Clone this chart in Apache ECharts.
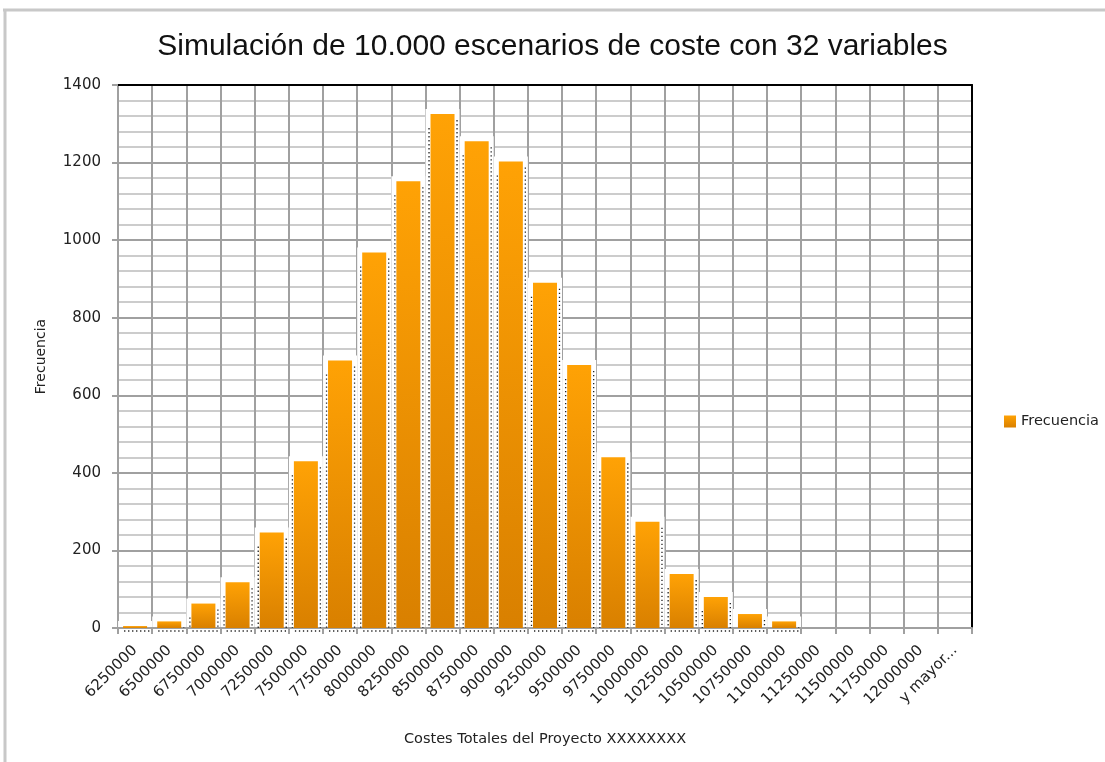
<!DOCTYPE html>
<html>
<head>
<meta charset="utf-8">
<script src="https://cdn.jsdelivr.net/npm/echarts@6/dist/echarts.min.js"></script>
<style>
html,body{margin:0;padding:0;background:#fff;}
#chart{width:1105px;height:762px;}
</style>
</head>
<body>
<div id="chart"></div>
<script>
const categories = ['6250000','6500000','6750000','7000000','7250000','7500000','7750000','8000000','8250000','8500000','8750000','9000000','9250000','9500000','9750000','10000000','10250000','10500000','10750000','11000000','11250000','11500000','11750000','12000000','y mayor...'];
const frecuencia = [5,17,63,118,246,430,690,968,1152,1325,1255,1203,890,678,440,274,139,80,36,17,0,0,0,0,0];
const titleText = 'Simulación de 10.000 escenarios de coste con 32 variables';
const seriesName = 'Frecuencia';
const xName = 'Costes Totales del Proyecto XXXXXXXX';
const yName = 'Frecuencia';

const chart = echarts.init(document.getElementById('chart'), null, {renderer:'canvas'});
const font = 'DejaVu Sans';
const BAR_W = 24;
const HALO = 5;

function renderHalo(params, api){
  const v = api.value(1);
  if (!v) return null;
  const top = api.coord([api.value(0), v]);
  const base = api.coord([api.value(0), 0]);
  const cx = top[0];
  const l = cx - BAR_W/2, r = cx + BAR_W/2;
  const dash = {stroke:'#222', lineWidth:1.3, lineDash:[1.3,2.7]};
  const h = base[1] - top[1];
  return {type:'group', children:[
    {type:'rect', shape:{x:l-HALO, y:top[1]-HALO, width:BAR_W+2*HALO, height:h+HALO-1}, style:{fill:'#ffffff'}},
    {type:'line', shape:{x1:r+2.5, y1:top[1]+Math.min(6,h), x2:r+2.5, y2:base[1]}, style:dash},
    {type:'line', shape:{x1:l-1.5, y1:top[1]+Math.min(14,h), x2:l-1.5, y2:base[1]}, style:dash},
    {type:'line', shape:{x1:l+1, y1:base[1]+3, x2:r+2.5, y2:base[1]+3}, style:dash}
  ]};
}

chart.setOption({
  animation:false,
  backgroundColor:'#fff',
  title:{text:titleText,left:'center',top:27,
    textStyle:{fontFamily:'Liberation Sans',fontSize:30,fontWeight:'normal',color:'#111'}},
  legend:{data:[seriesName],left:999,top:409,itemWidth:12,itemHeight:12,itemGap:6,icon:'rect',
    textStyle:{fontFamily:font,fontSize:14.5,color:'#222'}},
  graphic:[
    {type:'line',shape:{x1:3,y1:10,x2:1105,y2:10},style:{stroke:'#c8c8c8',lineWidth:3},silent:true},
    {type:'line',shape:{x1:5,y1:10,x2:5,y2:762},style:{stroke:'#c8c8c8',lineWidth:3},silent:true}
  ],
  grid:{left:118,right:133,top:85,bottom:134},
  xAxis:[{
    type:'category',data:categories,
    name:xName,nameLocation:'middle',nameGap:104,
    nameTextStyle:{fontFamily:font,fontSize:14.5,color:'#222'},
    axisLine:{onZero:false,lineStyle:{color:'#a0a0a0',width:2}},
    axisTick:{show:true,length:6,lineStyle:{color:'#a0a0a0',width:2}},
    axisLabel:{rotate:45,interval:0,fontFamily:font,fontSize:15,color:'#222',margin:20},
    splitLine:{show:true,lineStyle:{color:'#a0a0a0',width:2}}
  },{
    type:'category',data:categories,position:'top',
    axisLine:{onZero:false,lineStyle:{color:'#000',width:2}},axisTick:{show:false},axisLabel:{show:false},splitLine:{show:false}
  }],
  yAxis:[{
    type:'value',min:0,max:1400,interval:200,
    name:yName,nameLocation:'middle',nameGap:70,
    nameTextStyle:{fontFamily:font,fontSize:14,color:'#222'},
    axisLine:{show:true,onZero:false,lineStyle:{color:'#a0a0a0',width:2}},
    axisTick:{show:true,length:6,lineStyle:{color:'#a0a0a0',width:2}},
    axisLabel:{formatter:function(v){return String(v);},fontFamily:font,fontSize:15,color:'#222',margin:17},
    splitLine:{show:true,lineStyle:{color:'#a0a0a0',width:2}},
    minorTick:{show:false,splitNumber:5},
    minorSplitLine:{show:true,lineStyle:{color:'#cccccc',width:2}}
  },{
    type:'value',min:0,max:1400,interval:200,position:'right',
    axisLine:{show:true,onZero:false,lineStyle:{color:'#000',width:2}},axisTick:{show:false},axisLabel:{show:false},splitLine:{show:false}
  }],
  series:[{
    name:'halo',type:'custom',renderItem:renderHalo,
    data:frecuencia.map(function(v,i){return [i,v];}),
    z:2,silent:true,legendHoverLink:false
  },{
    name:seriesName,type:'bar',data:frecuencia,barWidth:BAR_W,
    itemStyle:{
      color:new echarts.graphic.LinearGradient(0,0,0,1,[{offset:0,color:'#FFA205'},{offset:1,color:'#D98000'}])
    },
    z:3
  }]
});
</script>
</body>
</html>
